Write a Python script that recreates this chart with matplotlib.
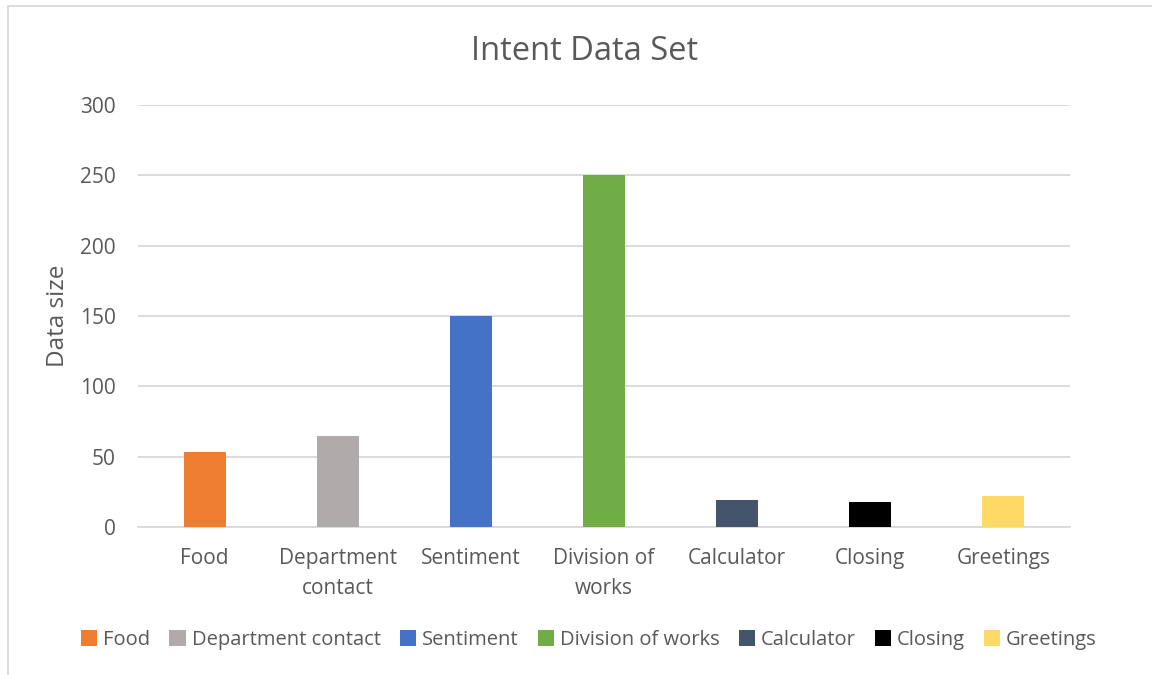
import matplotlib.pyplot as plt
from matplotlib.patches import Rectangle

categories = ["Food", "Department contact", "Sentiment", "Division of works",
              "Calculator", "Closing", "Greetings"]
tick_labels = ["Food", "Department\ncontact", "Sentiment", "Division of\nworks",
               "Calculator", "Closing", "Greetings"]
sizes = [53, 65, 150, 250, 19, 18, 22]
colors = ["#ED7D31", "#AFABAB", "#4472C4", "#70AD47", "#44546A", "#000000", "#FFD966"]

plt.rcParams['font.family'] = ['Open Sans', 'DejaVu Sans']
txt = "#595959"
grid = "#D9D9D9"

fig = plt.figure(figsize=(11.52, 6.75), dpi=100)
ax = fig.add_axes([138 / 1152, 1 - 527 / 675, 932 / 1152, 422 / 675])

x = list(range(len(categories)))
bars = ax.bar(x, sizes, width=0.316, color=colors, zorder=3)

ax.set_xlim(-0.5, len(categories) - 0.5)
ax.set_ylim(0, 300)
ax.set_yticks(range(0, 301, 50))
ax.yaxis.grid(True, color=grid, linewidth=1.3, zorder=0)
ax.set_axisbelow(True)
for s in ["top", "right", "left"]:
    ax.spines[s].set_visible(False)
ax.spines["bottom"].set_color(grid)
ax.spines["bottom"].set_linewidth(1.3)
ax.tick_params(length=0, labelsize=15, labelcolor=txt)
ax.tick_params(axis="y", pad=16)
ax.tick_params(axis="x", pad=15)
ax.set_xticks(x)
ax.set_xticklabels(tick_labels, linespacing=1.55)
ax.set_ylabel("Data size", fontsize=17.5, color=txt)
ax.yaxis.set_label_coords((70 - 138) / 932, 0.5)

fig.text(585 / 1152, 1 - 52 / 675, "Intent Data Set", ha="center", va="center",
         fontsize=23.5, color=txt)

leg = fig.legend(bars, categories, loc="center", bbox_to_anchor=(589 / 1152, 1 - 640 / 675),
                 ncol=7, frameon=False, fontsize=14.5, labelcolor=txt,
                 handlelength=0.8, handleheight=0.8, handletextpad=0.3, columnspacing=0.95)

# thin frame around the chart area
fig.patches.append(Rectangle((8 / 1152, -0.1), 1.2, 1 - 6 / 675 + 0.1,
                             transform=fig.transFigure, fill=False,
                             edgecolor=grid, linewidth=1.3))

fig.savefig("out.png", dpi=100)
